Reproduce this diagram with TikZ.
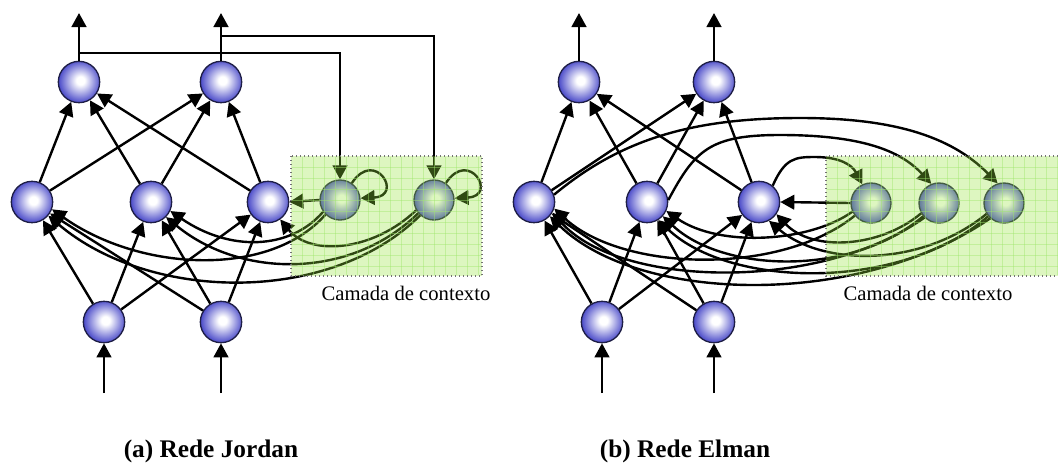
\documentclass[tikz,border=0pt]{standalone}
\usepackage{fontspec}
\setmainfont{Liberation Serif}
\usetikzlibrary{arrows.meta}
\definecolor{nblue}{RGB}{38,38,190}
\definecolor{nrim}{RGB}{30,30,70}
\definecolor{ctxfill}{RGB}{150,228,60}
\definecolor{ctxgrid}{RGB}{160,230,110}
\pgfdeclareradialshading{neuronshade}{\pgfpoint{2bp}{2bp}}{%
  color(0bp)=(white); color(5bp)=(white); color(30bp)=(nblue); color(50bp)=(nblue)}

\begin{document}
\begin{tikzpicture}[x=0.75pt,y=-0.75pt,
  neuron/.style={circle, minimum size=31pt, inner sep=0pt, draw=nrim, line width=1pt, shading=neuronshade},
  ctxneuron/.style={neuron, minimum size=30pt},
  conn/.style={line width=1.8pt, -{Triangle[length=10.5pt,width=11pt]}},
  ctxbox/.style={fill=ctxfill, fill opacity=0.32},
  ctxframe/.style={draw=black!55, line width=1pt, dotted},
  gridline/.style={ctxgrid, line width=0.35pt, opacity=0.45},
  ctxlabel/.style={font=\fontsize{15.5}{18}\selectfont},
  caption/.style={font=\bfseries\fontsize{19}{22}\selectfont, anchor=base}
]
\useasboundingbox (0,0) rectangle (1058,462);

% ---------------- (a) Jordan network ----------------
\node[neuron] (jo1) at (79,82) {};
\node[neuron] (jo2) at (221,82) {};
\node[neuron] (jh1) at (32,202) {};
\node[neuron] (jh2) at (151,202) {};
\node[neuron] (jh3) at (268,202) {};
\node[neuron] (ji1) at (104,322) {};
\node[neuron] (ji2) at (221,322) {};
\node[ctxneuron] (jc1) at (340,200) {};
\node[ctxneuron] (jc2) at (434,200) {};

\coordinate (jout1) at (79,13);
\coordinate (jout2) at (221,13);
\coordinate (jin1) at (104,393);
\coordinate (jin2) at (221,393);
\coordinate (jtap1) at (79,53);
\coordinate (jtap2) at (221,36);

\draw[conn] (jo1) -- (jout1);
\draw[conn] (jo2) -- (jout2);
\draw[conn] (jin1) -- (ji1);
\draw[conn] (jin2) -- (ji2);

\foreach \h in {jh1,jh2,jh3} {
  \draw[conn] (\h) -- (jo1);
  \draw[conn] (\h) -- (jo2);
  \draw[conn] (ji1) -- (\h);
  \draw[conn] (ji2) -- (\h);
}

% output copies fed to the context units
\draw[conn] (jtap1) -| (jc1.north);
\draw[conn] (jtap2) -| (jc2.north);

% context units back to the hidden layer
\draw[conn] (jc1.west) -- (jh3.east);
\draw[conn] (jc1.215) .. controls (290,250) and (230,252) .. (jh2.-25);
\draw[conn] (jc1.225) .. controls (270,278) and (140,272) .. (jh1.-20);
\draw[conn] (jc2.210) .. controls (372,252) and (310,256) .. (jh3.-55);
\draw[conn] (jc2.220) .. controls (350,280) and (240,278) .. (jh2.-45);
\draw[conn] (jc2.228) .. controls (330,305) and (150,302) .. (jh1.-40);

% self loops of the context units
\draw[conn] (jc1.55) .. controls (375,148) and (404,196) .. (jc1.5);
\draw[conn] (jc2.55) .. controls (469,148) and (498,196) .. (jc2.5);

% context layer panel
\fill[ctxbox] (291,156) rectangle (482,276);
\foreach \gx in {302,313,...,480} \draw[gridline] (\gx,157) -- (\gx,275);
\foreach \gy in {167,178,...,275} \draw[gridline] (292,\gy) -- (481,\gy);
\draw[ctxframe] (291,156) rectangle (482,276);
\node[ctxlabel] (jlab) at (406,293) {Camada de contexto};

\node[caption] (jcap) at (211,457) {(a) Rede Jordan};

% ---------------- (b) Elman network ----------------
\node[neuron] (eo1) at (579,82) {};
\node[neuron] (eo2) at (714,82) {};
\node[neuron] (eh1) at (534,202) {};
\node[neuron] (eh2) at (647,202) {};
\node[neuron] (eh3) at (759,202) {};
\node[neuron] (ei1) at (602,322) {};
\node[neuron] (ei2) at (714,322) {};
\node[ctxneuron] (ec1) at (871,203) {};
\node[ctxneuron] (ec2) at (939,203) {};
\node[ctxneuron] (ec3) at (1004,203) {};

\coordinate (eout1) at (579,13);
\coordinate (eout2) at (714,13);
\coordinate (ein1) at (602,393);
\coordinate (ein2) at (714,393);

\draw[conn] (eo1) -- (eout1);
\draw[conn] (eo2) -- (eout2);
\draw[conn] (ein1) -- (ei1);
\draw[conn] (ein2) -- (ei2);

\foreach \h in {eh1,eh2,eh3} {
  \draw[conn] (\h) -- (eo1);
  \draw[conn] (\h) -- (eo2);
  \draw[conn] (ei1) -- (\h);
  \draw[conn] (ei2) -- (\h);
}

% hidden units copied into the context units
\draw[conn] (eh3.50) .. controls (785,158) and (795,157) .. (815,157)
  .. controls (840,157) and (852,165) .. (ec1.115);
\draw[conn] (eh2.5) .. controls (695,150) and (710,135) .. (780,135)
  .. controls (860,135) and (900,150) .. (ec2.112);
\draw[conn] (eh1.20) .. controls (620,140) and (690,118) .. (800,118)
  .. controls (890,118) and (950,135) .. (ec3.108);

% context units back to the hidden layer
\draw[conn] (ec1.west) -- (eh3.east);
\draw[conn] (ec1.205) .. controls (810,242) and (720,248) .. (eh2.-25);
\draw[conn] (ec2.210) .. controls (880,248) and (812,252) .. (eh3.-35);
\draw[conn] (ec3.212) .. controls (920,268) and (822,266) .. (eh3.-62);
\draw[conn] (ec2.220) .. controls (850,278) and (722,272) .. (eh2.-42);
\draw[conn] (ec3.220) .. controls (900,292) and (730,288) .. (eh2.-58);
\draw[conn] (ec1.218) .. controls (780,276) and (622,272) .. (eh1.-18);
\draw[conn] (ec2.225) .. controls (820,292) and (620,288) .. (eh1.-30);
\draw[conn] (ec3.228) .. controls (860,308) and (640,304) .. (eh1.-42);

% context layer panel
\fill[ctxbox] (826,156) rectangle (1064,276);
\foreach \gx in {837,848,...,1058} \draw[gridline] (\gx,157) -- (\gx,275);
\foreach \gy in {167,178,...,275} \draw[gridline] (827,\gy) -- (1058,\gy);
\draw[ctxframe] (826,156) rectangle (1064,276);
\node[ctxlabel] (elab) at (928,293) {Camada de contexto};

\node[caption] (ecap) at (685,457) {(b) Rede Elman};
\end{tikzpicture}
\end{document}
